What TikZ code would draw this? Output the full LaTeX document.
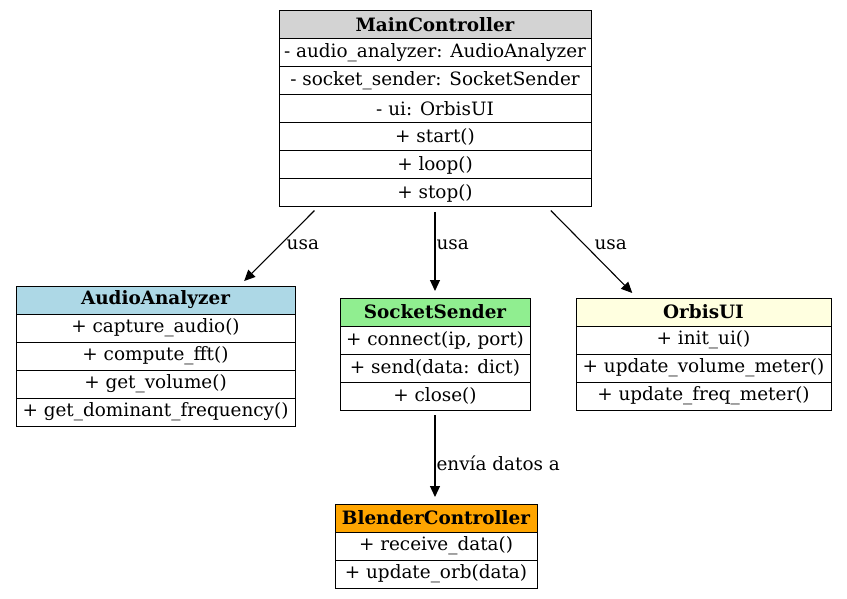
\documentclass[tikz,border=0pt]{standalone}
\usepackage{fontspec}
\setmainfont{DejaVu Serif}
\usetikzlibrary{positioning,calc,arrows.meta}
\definecolor{hdgray}{RGB}{211,211,211}
\definecolor{hdblue}{RGB}{173,216,230}
\definecolor{hdgreen}{RGB}{144,238,144}
\definecolor{hdyellow}{RGB}{255,255,224}
\definecolor{hdorange}{RGB}{255,165,0}
\tikzset{
	row/.style={draw, line width=1pt, rectangle, inner sep=0pt, outer sep=0pt, minimum height=28, font=\fontsize{18.4}{20}\selectfont},
	head/.style={row, font=\fontsize{18.4}{20}\selectfont\bfseries},
	uses/.style={line width=1.1pt, -{Triangle[length=11pt,width=10pt]}, shorten <=5pt, shorten >=7pt},
	lbl/.style={anchor=west, inner sep=1pt, font=\fontsize{18.4}{20}\selectfont}
}
\begin{document}
\begin{tikzpicture}[x=1pt,y=-1pt]
	\useasboundingbox (0,0) rectangle (847,599);
	%widths of the classes
	\def\mainw{312}
	\def\audiow{279}
	\def\sockw{190}
	\def\orbisw{255}
	\def\blendw{202}
	%main controller
	\node[head, fill=hdgray, minimum width=\mainw, anchor=north west] (main0) at (279,11) {MainController};
	\node[row, minimum width=\mainw, below=0pt of main0] (main1) {- audio\_analyzer: AudioAnalyzer};
	\node[row, minimum width=\mainw, below=0pt of main1] (main2) {- socket\_sender: SocketSender};
	\node[row, minimum width=\mainw, below=0pt of main2] (main3) {- ui: OrbisUI};
	\node[row, minimum width=\mainw, below=0pt of main3] (main4) {+ start()};
	\node[row, minimum width=\mainw, below=0pt of main4] (main5) {+ loop()};
	\node[row, minimum width=\mainw, below=0pt of main5] (main6) {+ stop()};
	%audio analyzer
	\node[head, fill=hdblue, minimum width=\audiow, anchor=north west] (audio0) at (16,286) {AudioAnalyzer};
	\node[row, minimum width=\audiow, below=0pt of audio0] (audio1) {+ capture\_audio()};
	\node[row, minimum width=\audiow, below=0pt of audio1] (audio2) {+ compute\_fft()};
	\node[row, minimum width=\audiow, below=0pt of audio2] (audio3) {+ get\_volume()};
	\node[row, minimum width=\audiow, below=0pt of audio3] (audio4) {+ get\_dominant\_frequency()};
	%socket sender
	\node[head, fill=hdgreen, minimum width=\sockw, anchor=north west] (sock0) at (340,298) {SocketSender};
	\node[row, minimum width=\sockw, below=0pt of sock0] (sock1) {+ connect(ip, port)};
	\node[row, minimum width=\sockw, below=0pt of sock1] (sock2) {+ send(data: dict)};
	\node[row, minimum width=\sockw, below=0pt of sock2] (sock3) {+ close()};
	%orbis ui
	\node[head, fill=hdyellow, minimum width=\orbisw, anchor=north west] (orbis0) at (576,298) {OrbisUI};
	\node[row, minimum width=\orbisw, below=0pt of orbis0] (orbis1) {+ init\_ui()};
	\node[row, minimum width=\orbisw, below=0pt of orbis1] (orbis2) {+ update\_volume\_meter()};
	\node[row, minimum width=\orbisw, below=0pt of orbis2] (orbis3) {+ update\_freq\_meter()};
	%blender controller
	\node[head, fill=hdorange, minimum width=\blendw, anchor=north west] (blend0) at (335,504) {BlenderController};
	\node[row, minimum width=\blendw, below=0pt of blend0] (blend1) {+ receive\_data()};
	\node[row, minimum width=\blendw, below=0pt of blend1] (blend2) {+ update\_orb(data)};
	%connectors
	\draw[uses] ($(main6.south west)!0.125!(main6.south east)$) -- node[lbl, pos=0.48, xshift=5] {usa} ($(audio0.north west)!0.80!(audio0.north east)$);
	\draw[uses] (main6.south) -- node[lbl, pos=0.42] {usa} (sock0.north);
	\draw[uses] ($(main6.south west)!0.86!(main6.south east)$) -- node[lbl, pos=0.42, xshift=8] {usa} ($(orbis0.north west)!0.24!(orbis0.north east)$);
	\draw[uses] (sock3.south) -- node[lbl, pos=0.57] {envía datos a} (sock3.south |- blend0.north);
\end{tikzpicture}
\end{document}
